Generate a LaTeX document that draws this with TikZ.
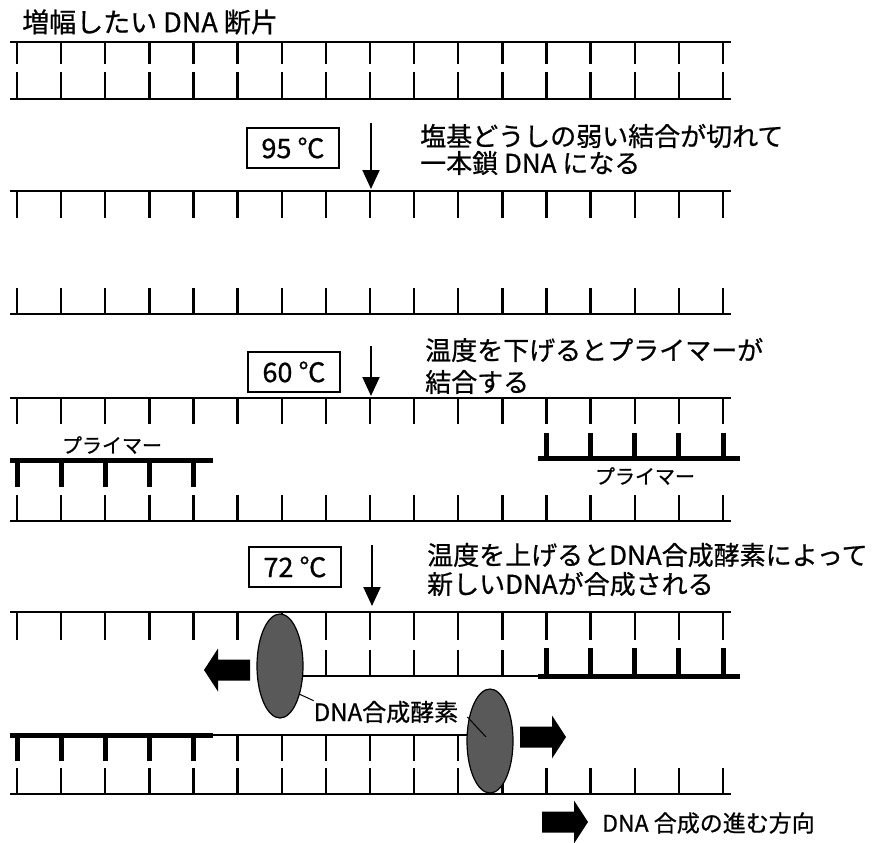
\documentclass[tikz,border=0pt]{standalone}
\usepackage{fontspec}
\setmainfont{Noto Sans CJK JP}[FakeBold=0.7]
\usetikzlibrary{arrows.meta,shapes.geometric}

\tikzset{
  strand/.style={line width=2.8pt},
  base/.style={line width=2.4pt},
  primer/.style={line width=5pt},
  temp/.style={draw,line width=1.3pt,minimum width=92pt,minimum height=40pt,inner sep=0pt,font=\fontsize{27}{30}\selectfont},
  down/.style={line width=2pt,-{Triangle[width=17pt,length=19pt]}},
  note/.style={anchor=west,inner sep=0pt,font=\fontsize{26}{30}\selectfont},
  small/.style={inner sep=0pt,font=\fontsize{20}{24}\selectfont},
  enzyme/.style={ellipse,draw,line width=1.2pt,fill=black!65,minimum width=46pt,minimum height=104pt,inner sep=0pt},
  fatarrow/.pic={\fill (0,-10.5)--(32,-10.5)--(32,-21.5)--(46,0)--(32,21.5)--(32,10.5)--(0,10.5)--cycle;}
}

\begin{document}
\begin{tikzpicture}[x=1pt,y=-1pt]
\useasboundingbox (0,0) rectangle (881,843);
%
\node[note,font=\fontsize{27}{30}\selectfont] (title) at (22,22) {増幅したい DNA 断片};
\draw[strand] (10,42)--(731,42);
\draw[strand] (10,99)--(731,99);
\foreach \i in {0,...,16}{
  \draw[base] ({17+44.125*\i},42)--++(0,22);
  \draw[base] ({17+44.125*\i},72)--++(0,27);
}
%
\node[temp] (t95) at (293,148) {95 ℃};
\coordinate (a95) at (371,123);
\coordinate (b95) at (371,189);
\draw[down] (a95)--(b95);
\node[note] (n95a) at (420,136) {塩基どうしの弱い結合が切れて};
\node[note] (n95b) at (420,163) {一本鎖 DNA になる};
%
\draw[strand] (10,191)--(731,191);
\draw[strand] (10,314)--(731,314);
\foreach \i in {0,...,16}{
  \draw[base] ({17+44.125*\i},191)--++(0,27);
  \draw[base] ({17+44.125*\i},288)--++(0,26);
}
%
\node[temp] (t60) at (294,372) {60 ℃};
\coordinate (a60) at (371,346);
\coordinate (b60) at (371,396);
\draw[down] (a60)--(b60);
\node[note] (n60a) at (425,350) {温度を下げるとプライマーが};
\node[note] (n60b) at (425,382) {結合する};
%
\draw[strand] (10,398)--(731,398);
\draw[strand] (10,521)--(731,521);
\foreach \i in {0,...,16}{
  \draw[base] ({17+44.125*\i},398)--++(0,26);
  \draw[base] ({17+44.125*\i},495)--++(0,26);
}
\draw[primer] (10,460)--(213,460);
\foreach \i in {0,...,4}
  \draw[primer] ({17+44.125*\i},460)--++(0,27);
\node[small] (p1) at (112,445) {プライマー};
\draw[primer] (538,458)--(740,458);
\foreach \i in {12,...,16}
  \draw[primer] ({17+44.125*\i},433)--++(0,25);
\node[small] (p2) at (645,476) {プライマー};
%
\node[temp] (t72) at (295,567) {72 ℃};
\coordinate (a72) at (372,545);
\coordinate (b72) at (372,606);
\draw[down] (a72)--(b72);
\node[note] (n72a) at (427,555) {温度を上げるとDNA合成酵素によって};
\node[note] (n72b) at (427,584) {新しいDNAが合成される};
%
\draw[strand] (10,612)--(731,612);
\foreach \i in {0,...,16}
  \draw[base] ({17+44.125*\i},612)--++(0,28);
\draw[strand] (280,676)--(540,676);
\foreach \i in {7,...,11}
  \draw[base] ({17+44.125*\i},650)--++(0,26);
\draw[primer] (538,676)--(740,676);
\foreach \i in {12,...,16}
  \draw[primer] ({17+44.125*\i},648)--++(0,28);
%
\draw[primer] (10,735)--(213,735);
\foreach \i in {0,...,4}
  \draw[primer] ({17+44.125*\i},735)--++(0,26);
\draw[strand] (211,735)--(490,735);
\foreach \i in {5,...,11}
  \draw[base] ({17+44.125*\i},735)--++(0,26);
\draw[strand] (10,794)--(731,794);
\foreach \i in {0,...,16}
  \draw[base] ({17+44.125*\i},768)--++(0,26);
%
\node[enzyme] (pol1) at (280,666) {};
\node[enzyme] (pol2) at (490,741) {};
\pic[xscale=-1] at (250,670) {fatarrow};
\pic at (520,737) {fatarrow};
\node[small,font=\fontsize{24}{28}\selectfont] (enz) at (386,712) {DNA合成酵素};
\draw[line width=1pt] (pol1.-55)--(enz.north west);
\draw[line width=1pt] ([shift={(9pt,-5pt)}]enz.east)--([shift={(-4pt,4pt)}]pol2.center);
%
\pic at (542,822) {fatarrow};
\node[note,font=\fontsize{23}{28}\selectfont] (key) at (602,823) {DNA 合成の進む方向};
\end{tikzpicture}
\end{document}
